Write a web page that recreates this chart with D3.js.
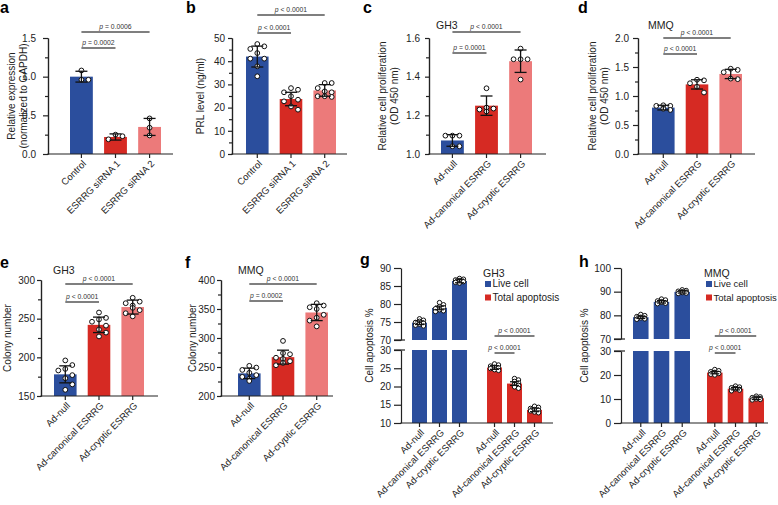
<!DOCTYPE html>
<html>
<head>
<meta charset="utf-8">
<script src="https://cdn.jsdelivr.net/npm/d3@7"></script>
<style>
body { margin: 0; background: #fff; }
svg { font-family: Arial, "Liberation Sans", Helvetica, sans-serif; }
</style>
</head>
<body>
<svg id="fig" width="778" height="505"></svg>
<script>
// ---------- data ----------
var siCats = ["Control", "ESRRG siRNA 1", "ESRRG siRNA 2"];
var adCats = ["Ad-null", "Ad-canonical ESRRG", "Ad-cryptic ESRRG"];
var barColors = ["#2b4e9d", "#d62a23", "#ec7a7a"];

// a: relative ESRRG expression
var aMean = [1.0, 0.22, 0.35];
var aSd = [0.07, 0.04, 0.11];
var aPts = [[1.08, 0.96, 0.96], [0.25, 0.19, 0.23], [0.46, 0.34, 0.24]];

// b: PRL level
var bMean = [42, 23.7, 27.4];
var bSd = [4.5, 2.9, 2.5];
var bPts = [[47.4, 46.4, 45.3, 43.5, 41.1, 41.1, 37.8, 33.5],
            [28.4, 27.7, 26.6, 24.9, 23.4, 22.7, 20.5, 19.1],
            [30.6, 30.6, 28.4, 27.0, 26.6, 24.9, 24.9, 24.6]];

// c: GH3 proliferation
var cMean = [1.07, 1.25, 1.48];
var cSd = [0.03, 0.05, 0.058];
var cPts = [[1.095, 1.095, 1.095, 1.04, 1.04],
            [1.34, 1.235, 1.22, 1.24, 1.23],
            [1.545, 1.49, 1.49, 1.49, 1.385]];

// d: MMQ proliferation
var dMean = [0.80, 1.20, 1.38];
var dSd = [0.04, 0.08, 0.08];
var dPts = [[0.84, 0.83, 0.83, 0.76, 0.78],
            [1.28, 1.27, 1.22, 1.16, 1.06],
            [1.47, 1.45, 1.41, 1.30, 1.29]];

// e: GH3 colonies
var eMean = [178, 242, 265];
var eSd = [11, 10, 9];
var ePts = [[196, 190, 185, 183, 177, 173, 165, 158],
            [258, 251, 249, 246, 241, 236, 232, 227],
            [277, 272, 270, 267, 264, 261, 257, 253]];

// f: MMQ colonies
var fMean = [239, 267, 344];
var fSd = [9, 12, 14];
var fPts = [[252, 249, 245, 240, 236, 233, 230, 226],
            [295, 274, 272, 266, 264, 260, 257, 253],
            [360, 356, 353, 350, 340, 335, 330, 320]];

// g: GH3 apoptosis
var gLiveMean = [74.8, 78.9, 86.4];
var gApoMean = [25.2, 20.8, 13.6];
var gLivePts = [[75.9, 75.5, 75.2, 74.9, 74.7, 74.4, 74.1, 73.9],
                [80.4, 79.8, 79.3, 79.0, 78.7, 78.4, 78.1, 77.9],
                [87.1, 86.9, 86.7, 86.5, 86.3, 86.2, 86.0, 85.8]];
var gApoPts = [[26.2, 25.9, 25.6, 25.3, 25.1, 24.9, 24.6, 24.4],
               [22.2, 21.8, 21.4, 21.0, 20.6, 20.3, 19.9, 19.5],
               [14.6, 14.3, 14.0, 13.7, 13.5, 13.3, 13.0, 12.8]];

// h: MMQ apoptosis
var hLiveMean = [79.2, 85.7, 89.9];
var hApoMean = [21.0, 14.3, 10.3];
var hLivePts = [[80.4, 79.9, 79.5, 79.2, 78.9, 78.7, 78.5, 78.3],
                [86.9, 86.5, 86.1, 85.8, 85.5, 85.3, 85.1, 84.9],
                [90.8, 90.5, 90.2, 90.0, 89.8, 89.6, 89.4, 89.2]];
var hApoPts = [[22.3, 21.8, 21.4, 21.1, 20.9, 20.6, 20.3, 20.0],
               [15.4, 15.0, 14.7, 14.4, 14.2, 14.0, 13.7, 13.4],
               [11.2, 10.9, 10.6, 10.4, 10.2, 10.0, 9.8, 9.6]];

// ---------- drawing ----------
var svg = d3.select('#fig');
var ink = '#222';

// scatter like prism does it: spread points of similar height side by side,
// never further than maxOff from the bar centre (overlap allowed after that)
var swarm = function(vals, y, gx, gy, maxOff) {
    var placed = [];
    var hits = function(dx, py) {
        return placed.filter(function(p) {
            return Math.abs(p.dx - dx) < gx && Math.abs(p.py - py) < gy;
        }).length;
    };
    vals.slice().sort(function(a, b) { return b - a; }).forEach(function(v) {
        var py = y(v), best = null, bestN = 1e9;
        for (var k = 0; k <= maxOff; k += 0.5) {
            var cands = k === 0 ? [0] : [k, -k];
            for (var c = 0; c < cands.length; c++) {
                var n = hits(cands[c], py);
                if (n < bestN) { bestN = n; best = cands[c]; }
            }
            if (bestN === 0) break;
        }
        placed.push({dx: best, py: py});
    });
    return placed;
};

var drawPoints = function(g, vals, y, cx, r, gx, gy, maxOff) {
    g.selectAll(null).data(swarm(vals, y, gx, gy, maxOff)).enter().append('circle')
        .attr('cx', function(d) { return cx + d.dx; })
        .attr('cy', function(d) { return d.py; })
        .attr('r', r)
        .style('fill', '#fff')
        .style('stroke', '#111')
        .style('stroke-width', 1);
};

var drawErr = function(g, cx, y, m, s, cap) {
    var e = g.append('g').style('stroke', '#111').style('stroke-width', 1.3);
    e.append('line').attr('x1', cx).attr('x2', cx).attr('y1', y(m - s)).attr('y2', y(m + s));
    [m - s, m + s].forEach(function(v) {
        e.append('line').attr('x1', cx - cap / 2).attr('x2', cx + cap / 2)
            .attr('y1', y(v)).attr('y2', y(v));
    });
};

var drawSig = function(g, x1, x2, yy, txt) {
    g.append('line').attr('x1', x1).attr('x2', x2).attr('y1', yy).attr('y2', yy)
        .style('stroke', '#555').style('stroke-width', 1.5);
    var t = g.append('text').attr('x', (x1 + x2) / 2).attr('y', yy - 3)
        .attr('text-anchor', 'middle').style('font-size', '6.8px').style('fill', '#333');
    t.append('tspan').style('font-style', 'italic').text('p');
    t.append('tspan').text(' ' + txt);
};

var letter = function(t, x, y) {
    svg.append('text').attr('x', x).attr('y', y).text(t)
        .style('font-size', '16px').style('font-weight', 'bold').style('fill', '#000');
};

var yTitle = function(lines, xs, yc) {
    lines.forEach(function(l, i) {
        svg.append('text').attr('transform', 'translate(' + xs[i] + ',' + yc + ') rotate(-90)')
            .attr('text-anchor', 'middle').style('font-size', '10px').style('fill', ink).text(l);
    });
};

var xLabels = function(g, centers, labels, y0) {
    centers.forEach(function(cx, i) {
        g.append('line').attr('x1', cx).attr('x2', cx).attr('y1', y0).attr('y2', y0 + 4)
            .style('stroke', ink).style('stroke-width', 1.2);
        g.append('text').attr('transform', 'translate(' + (cx + 3) + ',' + (y0 + 8) + ') rotate(-45)')
            .attr('text-anchor', 'end').attr('dy', '0.35em')
            .style('font-size', '9.5px').style('fill', ink).text(labels[i]);
    });
};

var styleAxis = function(sel) {
    sel.select('.domain').style('stroke', ink).style('stroke-width', 1.2);
    sel.selectAll('.tick line').style('stroke', ink).style('stroke-width', 1.2);
    sel.selectAll('.tick text').style('font-size', '10px').style('fill', ink)
        .style('font-family', 'Arial, "Liberation Sans", sans-serif');
};

var barPanel = function(o) {
    var g = svg.append('g');
    var y = d3.scaleLinear().domain(o.yDomain).range([o.yBottom, o.yTop]);
    var x = d3.scaleBand().domain(o.cats).range([o.barX0, o.barX1]).paddingInner(0.33);
    var cx = function(i) { return x(o.cats[i]) + x.bandwidth() / 2; };

    g.selectAll('rect.bar').data(o.mean).enter().append('rect')
        .attr('class', 'bar')
        .attr('x', function(d, i) { return x(o.cats[i]); })
        .attr('width', x.bandwidth())
        .attr('y', function(d) { return y(d); })
        .attr('height', function(d) { return o.yBottom - y(d); })
        .style('fill', function(d, i) { return barColors[i]; });

    o.pts.forEach(function(p, i) { drawPoints(g, p, y, cx(i), 2.4, 7, 6.5, 10); });
    o.mean.forEach(function(m, i) { drawErr(g, cx(i), y, m, o.sd[i], 12); });

    var ax = g.append('g').attr('transform', 'translate(' + o.axisX + ',0)')
        .call(d3.axisLeft(y).tickValues(o.major).tickSize(o.tick).tickSizeOuter(0)
            .tickPadding(o.pad).tickFormat(d3.format(o.fmt)));
    styleAxis(ax);
    var mn = g.append('g').attr('transform', 'translate(' + o.axisX + ',0)')
        .call(d3.axisLeft(y).tickValues(o.minor).tickSize(3).tickSizeOuter(0).tickFormat(''));
    styleAxis(mn);

    g.append('line').attr('x1', o.axisX - 0.6).attr('x2', o.axisEnd)
        .attr('y1', o.yBottom).attr('y2', o.yBottom)
        .style('stroke', ink).style('stroke-width', 1.2);
    xLabels(g, [0, 1, 2].map(cx), o.cats, o.yBottom);

    o.sig.forEach(function(s) { drawSig(g, cx(s[0]), cx(s[1]), s[3], s[2]); });

    if (o.title) {
        g.append('text').attr('x', o.title[1]).attr('y', o.title[2]).text(o.title[0])
            .style('font-size', '10.5px').style('fill', ink);
    }
    yTitle(o.ylabel, o.ylabelX, (o.yTop + o.yBottom) / 2);
    letter(o.letter[0], o.letter[1], o.letter[2]);
};

var brokenPanel = function(o) {
    var g = svg.append('g');
    var yT = d3.scaleLinear().domain(o.topDomain).range([o.topBottom, o.topTop]);
    var yB = d3.scaleLinear().domain(o.botDomain).range([o.botBottom, o.botTop]);
    var outer = d3.scaleBand().domain(['live', 'apo']).range([o.barX0, o.barX1]).paddingInner(o.groupPad);
    var inner = d3.scaleBand().domain(adCats).range([0, outer.bandwidth()]).paddingInner(0.25);
    var bx = function(grp, i) { return outer(grp) + inner(adCats[i]); };
    var bw = inner.bandwidth();
    var cx = function(grp, i) { return bx(grp, i) + bw / 2; };

    o.liveMean.forEach(function(m, i) {
        g.append('rect').attr('x', bx('live', i)).attr('width', bw)
            .attr('y', yT(m)).attr('height', o.topBottom - yT(m)).style('fill', barColors[0]);
        g.append('rect').attr('x', bx('live', i)).attr('width', bw)
            .attr('y', o.botTop).attr('height', o.botBottom - o.botTop).style('fill', barColors[0]);
    });
    o.apoMean.forEach(function(m, i) {
        g.append('rect').attr('x', bx('apo', i)).attr('width', bw)
            .attr('y', yB(m)).attr('height', o.botBottom - yB(m)).style('fill', barColors[1]);
    });

    var off = bw / 2 - 1.5;
    o.livePts.forEach(function(p, i) { drawPoints(g, p, yT, cx('live', i), 2.2, 4, 2.5, off); });
    o.apoPts.forEach(function(p, i) { drawPoints(g, p, yB, cx('apo', i), 2.2, 4, 2.5, off); });
    o.liveMean.forEach(function(m, i) { drawErr(g, cx('live', i), yT, m, 0.5, 9); });
    o.apoMean.forEach(function(m, i) { drawErr(g, cx('apo', i), yB, m, 0.5, 9); });

    var at = g.append('g').attr('transform', 'translate(' + o.axisX + ',0)')
        .call(d3.axisLeft(yT).tickValues(o.topTicks).tickSize(7).tickSizeOuter(0).tickPadding(3));
    styleAxis(at);
    var ab = g.append('g').attr('transform', 'translate(' + o.axisX + ',0)')
        .call(d3.axisLeft(yB).tickValues(o.botTicks).tickSize(7).tickSizeOuter(0).tickPadding(3));
    styleAxis(ab);
    // break marks
    [o.topBottom, o.botTop].forEach(function(yy) {
        g.append('line').attr('x1', o.axisX - 7).attr('x2', o.axisX + 4)
            .attr('y1', yy).attr('y2', yy).style('stroke', ink).style('stroke-width', 1.2);
    });

    g.append('line').attr('x1', o.axisX - 0.6).attr('x2', o.axisEnd)
        .attr('y1', o.botBottom).attr('y2', o.botBottom)
        .style('stroke', ink).style('stroke-width', 1.2);
    var centers = [], labels = [];
    ['live', 'apo'].forEach(function(grp) {
        adCats.forEach(function(c, i) { centers.push(cx(grp, i)); labels.push(c); });
    });
    xLabels(g, centers, labels, o.botBottom);

    o.sig.forEach(function(s) { drawSig(g, cx('apo', s[0]), cx('apo', s[1]), s[3], s[2]); });

    // legend
    g.append('text').attr('x', o.legX - 2).attr('y', o.legY - 4).text(o.title)
        .style('font-size', '10.5px').style('fill', ink);
    ['Live cell', 'Total apoptosis'].forEach(function(t, i) {
        g.append('rect').attr('x', o.legX).attr('y', o.legY + i * 13.5).attr('width', 6).attr('height', 6)
            .style('fill', barColors[i]);
        g.append('text').attr('x', o.legX + 7.5).attr('y', o.legY + 6 + i * 13.5).text(t)
            .style('font-size', o.legFont).style('fill', ink);
    });

    yTitle(['Cell apoptosis %'], [o.ylabelX], (o.topTop + o.botBottom) / 2);
    letter(o.letter[0], o.letter[1], o.letter[2]);
};

barPanel({
    cats: siCats, mean: aMean, sd: aSd, pts: aPts,
    yDomain: [0, 1.5], yTop: 38, yBottom: 154, axisX: 48, axisEnd: 173, barX0: 70, barX1: 161,
    major: [0, 0.5, 1, 1.5], minor: [0.25, 0.75, 1.25], fmt: '.1f', tick: 5, pad: 7,
    ylabel: ['Relative expression', '(normalized to GAPDH)'], ylabelX: [15, 27],
    letter: ['a', 0, 13],
    sig: [[0, 2, '= 0.0006', 32], [0, 1, '= 0.0002', 48]]
});
barPanel({
    cats: siCats, mean: bMean, sd: bSd, pts: bPts,
    yDomain: [0, 50], yTop: 38, yBottom: 154, axisX: 232, axisEnd: 347, barX0: 246, barX1: 336,
    major: [0, 10, 20, 30, 40, 50], minor: [5, 15, 25, 35, 45], fmt: 'd', tick: 4, pad: 3,
    ylabel: ['PRL level (ng/ml)'], ylabelX: [204],
    letter: ['b', 186, 13],
    sig: [[0, 2, '< 0.0001', 15], [0, 1, '< 0.0001', 33]]
});
barPanel({
    cats: adCats, mean: cMean, sd: cSd, pts: cPts,
    yDomain: [1.0, 1.6], yTop: 38, yBottom: 154, axisX: 429, axisEnd: 546, barX0: 441, barX1: 532,
    major: [1.0, 1.2, 1.4, 1.6], minor: [1.1, 1.3, 1.5], fmt: '.1f', tick: 4, pad: 5,
    ylabel: ['Relative cell proliferation', '(OD 450 nm)'], ylabelX: [386, 398],
    title: ['GH3', 436, 29], letter: ['c', 363, 13],
    sig: [[0, 2, '< 0.0001', 32], [0, 1, '= 0.0001', 53]]
});
barPanel({
    cats: adCats, mean: dMean, sd: dSd, pts: dPts,
    yDomain: [0, 2], yTop: 38, yBottom: 154, axisX: 638, axisEnd: 755, barX0: 652, barX1: 742,
    major: [0, 0.5, 1, 1.5, 2], minor: [0.25, 0.75, 1.25, 1.75], fmt: '.1f', tick: 5, pad: 4,
    ylabel: ['Relative cell proliferation', '(OD 450 nm)'], ylabelX: [596, 608],
    title: ['MMQ', 648, 29], letter: ['d', 578, 13],
    sig: [[0, 2, '< 0.0001', 38], [0, 1, '< 0.0001', 54]]
});
barPanel({
    cats: adCats, mean: eMean, sd: eSd, pts: ePts,
    yDomain: [150, 300], yTop: 280, yBottom: 396, axisX: 41, axisEnd: 158, barX0: 54, barX1: 144,
    major: [150, 200, 250, 300], minor: [175, 225, 275], fmt: 'd', tick: 4, pad: 2,
    ylabel: ['Colony number'], ylabelX: [11],
    title: ['GH3', 53, 274], letter: ['e', 0, 268],
    sig: [[0, 2, '< 0.0001', 284], [0, 1, '< 0.0001', 302]]
});
barPanel({
    cats: adCats, mean: fMean, sd: fSd, pts: fPts,
    yDomain: [200, 400], yTop: 280, yBottom: 396, axisX: 221, axisEnd: 333, barX0: 238, barX1: 328,
    major: [200, 250, 300, 350, 400], minor: [225, 275, 325, 375], fmt: 'd', tick: 4, pad: 2,
    ylabel: ['Colony number'], ylabelX: [196],
    title: ['MMQ', 238, 274], letter: ['f', 185, 268],
    sig: [[0, 2, '< 0.0001', 284], [0, 1, '= 0.0002', 301]]
});
brokenPanel({
    liveMean: gLiveMean, apoMean: gApoMean, livePts: gLivePts, apoPts: gApoPts,
    topDomain: [70, 90], topTop: 268, topBottom: 340, botDomain: [10, 30], botTop: 350, botBottom: 423,
    topTicks: [70, 75, 80, 85, 90], botTicks: [10, 15, 20, 25, 30],
    axisX: 401, axisEnd: 553, barX0: 412, barX1: 542, groupPad: 0.267,
    title: 'GH3', legX: 485, legY: 281, legFont: '10px', ylabelX: 373, letter: ['g', 360, 265],
    sig: [[0, 2, '< 0.0001', 336], [0, 1, '< 0.0001', 353]]
});
brokenPanel({
    liveMean: hLiveMean, apoMean: hApoMean, livePts: hLivePts, apoPts: hApoPts,
    topDomain: [70, 100], topTop: 268, topBottom: 339, botDomain: [0, 30], botTop: 351, botBottom: 423,
    topTicks: [70, 80, 90, 100], botTicks: [0, 10, 20, 30],
    axisX: 621, axisEnd: 768, barX0: 633, barX1: 764, groupPad: 0.23,
    title: 'MMQ', legX: 706, legY: 281, legFont: '9.5px', ylabelX: 588, letter: ['h', 579, 267],
    sig: [[0, 2, '< 0.0001', 336], [0, 1, '< 0.0001', 353]]
});
</script>
</body>
</html>
